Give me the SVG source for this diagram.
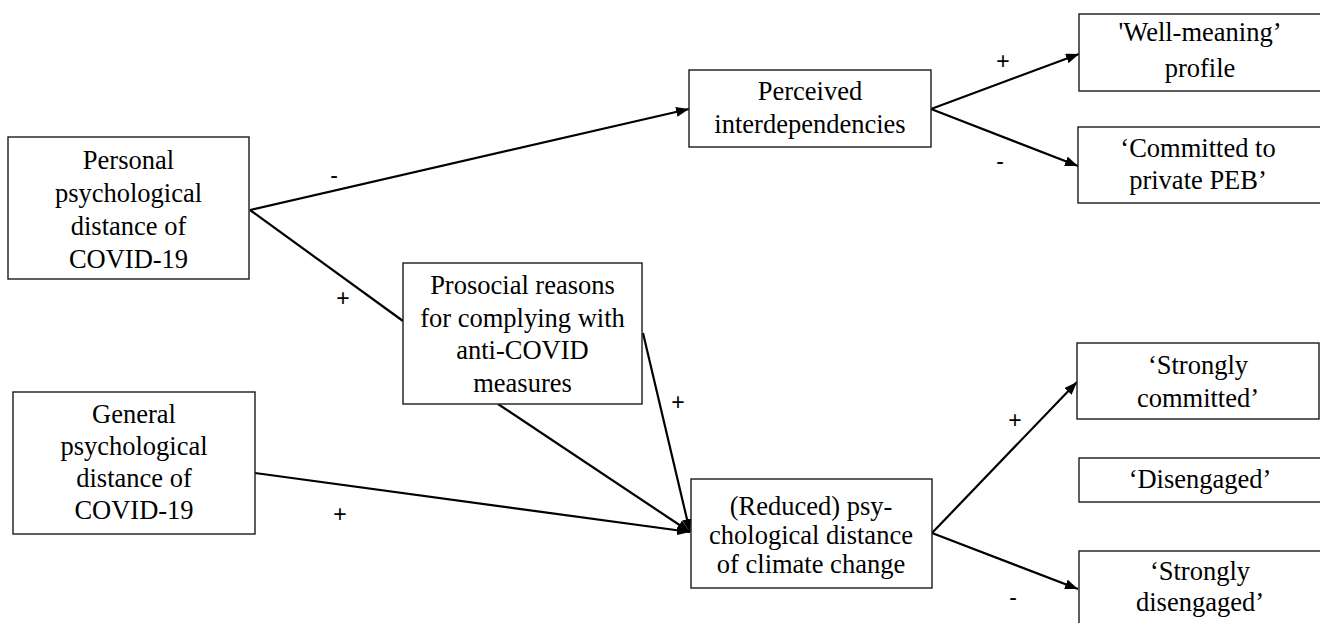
<svg xmlns="http://www.w3.org/2000/svg" width="1320" height="623" viewBox="0 0 1320 623">
<style>
.box{fill:#fff;stroke:#1a1a1a;stroke-width:1.4}
.e{stroke:#000;stroke-width:2.2;fill:none}
</style>
<defs>
<marker id="ah" markerUnits="userSpaceOnUse" markerWidth="14" markerHeight="10" refX="13" refY="5" orient="auto">
<path d="M0,0 L13,5 L0,10 z" fill="#000"/>
</marker>
</defs>
<rect width="1320" height="623" fill="#fff"/>
<g id="connectors">
<line class="e" x1="250" y1="210" x2="689" y2="109" marker-end="url(#ah)"/>
<line class="e" x1="250" y1="210" x2="403" y2="321"/>
<line class="e" x1="931" y1="109" x2="1079" y2="54" marker-end="url(#ah)"/>
<line class="e" x1="931" y1="109" x2="1078" y2="166" marker-end="url(#ah)"/>
<line class="e" x1="498" y1="404" x2="690" y2="532" marker-end="url(#ah)"/>
<line class="e" x1="643" y1="333" x2="690" y2="532" marker-end="url(#ah)"/>
<line class="e" x1="255" y1="473" x2="690" y2="532" marker-end="url(#ah)"/>
<line class="e" x1="932" y1="533" x2="1077" y2="382" marker-end="url(#ah)"/>
<line class="e" x1="932" y1="533" x2="1078" y2="589" marker-end="url(#ah)"/>
<g font-family="Liberation Sans, Arial, sans-serif" font-size="23" fill="#000" text-anchor="middle">
<text x="334" y="183">-</text>
<text x="343" y="306">+</text>
<text x="1003" y="69">+</text>
<text x="1000" y="169">-</text>
<text x="678" y="410">+</text>
<text x="340" y="522">+</text>
<text x="1015" y="428">+</text>
<text x="1013" y="605">-</text>
</g>
</g>
<g font-family="Liberation Serif, Times New Roman, serif" font-size="26.5" fill="#000" text-anchor="middle">
<g id="personal">
<rect class="box" x="8" y="137" width="241" height="142"/>
<text x="128.5" y="169">Personal</text>
<text x="128.5" y="202">psychological</text>
<text x="128.5" y="235">distance of</text>
<text x="128.5" y="268">COVID-19</text>
</g>
<g id="general">
<rect class="box" x="13" y="392" width="242" height="142"/>
<text x="134" y="423">General</text>
<text x="134" y="455">psychological</text>
<text x="134" y="487">distance of</text>
<text x="134" y="519">COVID-19</text>
</g>
<g id="prosocial">
<rect class="box" x="403" y="263" width="239" height="141"/>
<text x="522.5" y="294">Prosocial reasons</text>
<text x="522.5" y="327">for complying with</text>
<text x="522.5" y="359">anti-COVID</text>
<text x="522.5" y="392">measures</text>
</g>
<g id="perceived">
<rect class="box" x="689" y="70" width="242" height="77"/>
<text x="810" y="100">Perceived</text>
<text x="810" y="133">interdependencies</text>
</g>
<g id="reduced">
<rect class="box" x="691" y="479" width="241" height="109"/>
<text x="811" y="515">(Reduced) psy-</text>
<text x="811" y="544">chological distance</text>
<text x="811" y="573">of climate change</text>
</g>
<g id="well-meaning">
<rect class="box" x="1079" y="14" width="242" height="77"/>
<text x="1200" y="41">'Well-meaning’</text>
<text x="1200" y="77">profile</text>
</g>
<g id="committed-private">
<rect class="box" x="1078" y="127" width="243" height="76"/>
<text x="1198" y="157">‘Committed to</text>
<text x="1198" y="189">private PEB’</text>
</g>
<g id="strongly-committed">
<rect class="box" x="1077" y="343" width="242" height="76"/>
<text x="1198" y="374">‘Strongly</text>
<text x="1198" y="407">committed’</text>
</g>
<g id="disengaged">
<rect class="box" x="1079" y="458" width="242" height="44"/>
<text x="1200" y="488">‘Disengaged’</text>
</g>
<g id="strongly-disengaged">
<rect class="box" x="1079" y="551" width="242" height="80"/>
<text x="1200" y="580">‘Strongly</text>
<text x="1200" y="611">disengaged’</text>
</g>
</g>
</svg>
